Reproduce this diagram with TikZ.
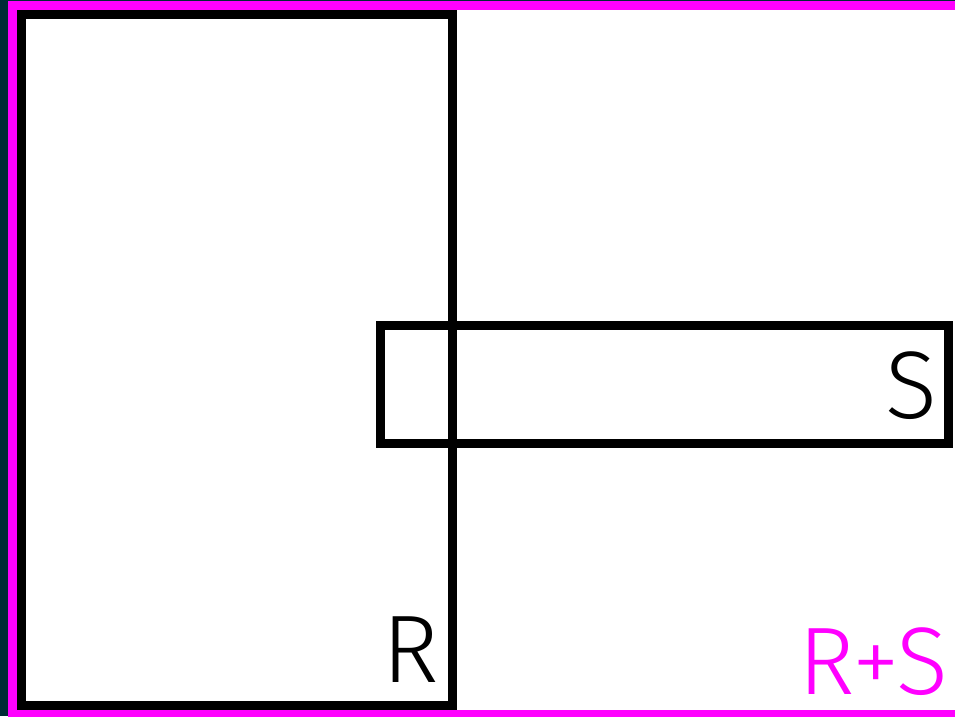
\documentclass[tikz,border=0pt]{standalone}
\usepackage{fontspec}
\setmainfont{Fira Sans}[UprightFont=* Light]
\definecolor{bgdark}{RGB}{0,43,54}
\definecolor{mag}{RGB}{255,0,255}
\begin{document}
\begin{tikzpicture}[x=1pt,y=-1pt,
  frame/.style={line width=9pt,line join=miter},
  lbl/.style={anchor=base east,inner sep=0pt,text depth=0pt,font=\fontsize{96}{96}\selectfont}]
\useasboundingbox (0,0) rectangle (955,716);
\fill[bgdark] (0,0) rectangle (955,716);
\begin{scope}
\clip (0,0) rectangle (955,716);
\draw[frame,mag,fill=white] (12.5,5.5) rectangle (970,714.5);
\end{scope}
\draw[frame,black] (380.5,325) rectangle (948,443.5);
\draw[frame,black] (21.5,14.5) rectangle (452.5,705.5);
\node[lbl,text=black] (r) at (439,682) {R};
\node[lbl,text=black] (s) at (937,418) {S};
\node[lbl,text=mag] (rs) at (948,694) {R+S};
\end{tikzpicture}
\end{document}
